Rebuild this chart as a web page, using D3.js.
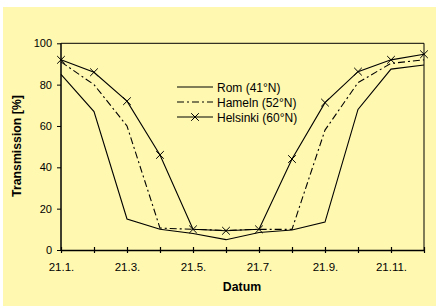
<!DOCTYPE html>
<html><head><meta charset="utf-8">
<script src="https://cdn.jsdelivr.net/npm/d3@7"></script>
<style>body{margin:0;background:#fff}svg{display:block}text{font-family:"Liberation Sans",Arial,sans-serif}</style>
</head><body>
<script>
const months = ["21.1.","21.2.","21.3.","21.4.","21.5.","21.6.","21.7.","21.8.","21.9.","21.10.","21.11.","21.12."];
const tickLabels = ["21.1.","21.3.","21.5.","21.7.","21.9.","21.11."];
const yTicks = [0,20,40,60,80,100];
const rom      = [85,67,15,10,8,5,8.5,9.7,13.5,68,87.5,89.5];
const hameln   = [91,80,60,10.6,10,9.5,10,10,58,81,90.3,92];
const helsinki = [92,86,72,46,10,9.3,10,44,71.3,86.3,92,94.7];
const seriesNames = ["Rom (41°N)","Hameln (52°N)","Helsinki (60°N)"];

const W=436,H=306;
const svg=d3.select("body").append("svg").attr("width",W).attr("height",H);
svg.append("rect").attr("x",3).attr("y",7).attr("width",W-3).attr("height",H-7).attr("fill","#FFF8B0");
const x=d3.scalePoint().domain(months).range([61,424]);
const y=d3.scaleLinear().domain([0,100]).range([250,43.3]);

// frame top/right
svg.append("path").attr("d",`M61,${y(100)}H424V250`).attr("fill","none").attr("stroke","#000").attr("stroke-width",1);

const xa=svg.append("g").attr("transform","translate(0,250)")
  .call(d3.axisBottom(x).tickSize(0).tickFormat(d=>tickLabels.includes(d)?d:""));
xa.select(".domain").attr("stroke-width",1.5);
xa.selectAll(".tick line").attr("y1",-3).attr("y2",3).attr("stroke-width",1.2);
xa.selectAll("text").attr("dy",0).attr("y",21).attr("font-size",11.5).attr("fill","#000");

const ya=svg.append("g").attr("transform","translate(61,0)")
  .call(d3.axisLeft(y).tickValues(yTicks).tickSize(4).tickPadding(5));
ya.select(".domain").attr("stroke-width",1.5);
ya.selectAll("text").attr("font-size",11).attr("fill","#000");
ya.selectAll(".domain").attr("d",`M0,250V${y(100)}`);

svg.append("text").attr("transform","translate(21,146) rotate(-90)").attr("text-anchor","middle")
  .attr("font-size",12.3).attr("font-weight","bold").text("Transmission [%]");
svg.append("text").attr("x",242).attr("y",291).attr("text-anchor","middle")
  .attr("font-size",12.3).attr("font-weight","bold").text("Datum");

const line=d3.line().x((d,i)=>x(months[i])).y(d=>y(d));
const styles=[{dash:null},{dash:"7,3,2,3"},{dash:null}];
[rom,hameln,helsinki].forEach((s,k)=>{
  svg.append("path").datum(s).attr("d",line).attr("fill","none").attr("stroke","#000")
    .attr("stroke-width",1.1).attr("stroke-dasharray",styles[k].dash);
});
const cross=d3.symbol().type(d3.symbolX).size(40);
svg.append("g").selectAll("path").data(helsinki).join("path")
  .attr("transform",(d,i)=>`translate(${x(months[i])},${y(d)})`).attr("d",cross)
  .attr("fill","none").attr("stroke","#000").attr("stroke-width",1);

// legend
const ly=[87,102,117];
seriesNames.forEach((n,k)=>{
  svg.append("line").attr("x1",177).attr("x2",213).attr("y1",ly[k]).attr("y2",ly[k])
    .attr("stroke","#000").attr("stroke-width",1.1).attr("stroke-dasharray",styles[k].dash);
  if(k===2) svg.append("path").attr("transform",`translate(195,${ly[k]})`).attr("d",cross)
    .attr("fill","none").attr("stroke","#000");
  svg.append("text").attr("x",217).attr("y",ly[k]+4.5).attr("font-size",12).text(n);
});
</script>
</body></html>
